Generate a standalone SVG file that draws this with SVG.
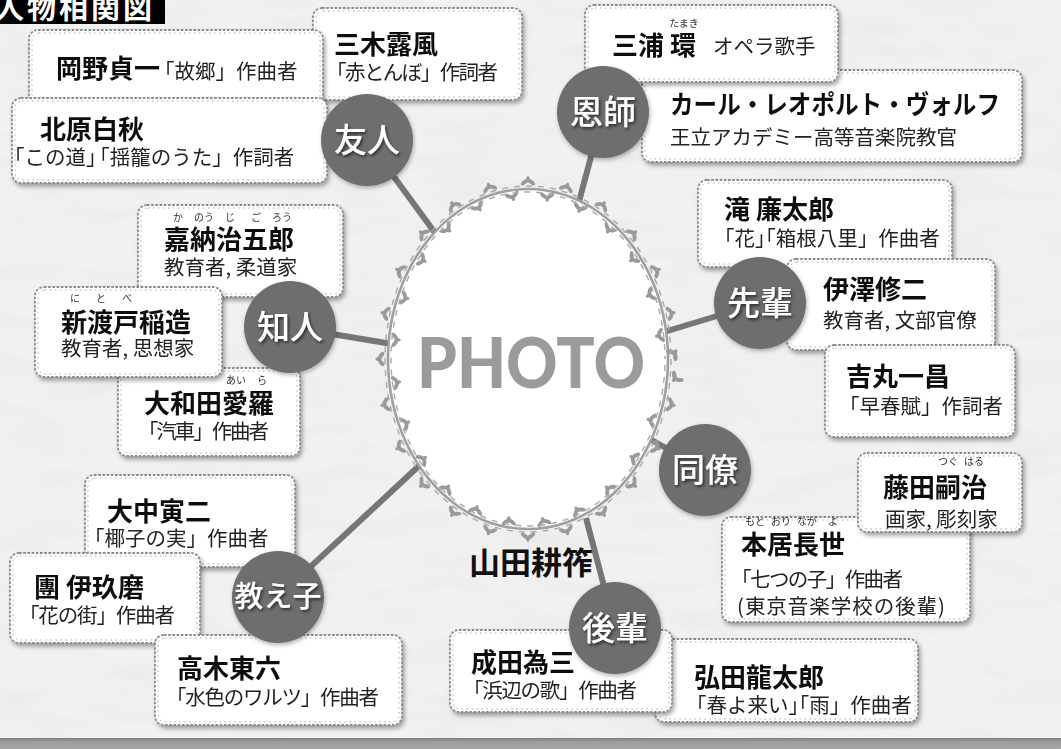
<svg xmlns="http://www.w3.org/2000/svg" width="1061" height="749" viewBox="0 0 1061 749">
  <defs>
    <style>
      .card{fill:#fff;stroke:#8c8c8c;stroke-width:1.8;stroke-dasharray:2.6 1.6}
      .lace{fill:none;stroke:#a6a6a6;stroke-width:1;stroke-dasharray:1.4 3.6}
      .nm{font-family:"Noto Sans CJK JP","Noto Sans CJK SC",sans-serif;font-weight:700;font-size:26px;fill:#111}
      .ds{font-family:"Noto Sans CJK JP","Noto Sans CJK SC",sans-serif;font-weight:400;font-size:20.5px;fill:#222}
      .rb{font-family:"Noto Sans CJK JP","Noto Sans CJK SC",sans-serif;font-weight:400;font-size:10px;fill:#333;text-anchor:middle}
      .cat{font-family:"Noto Sans CJK JP","Noto Sans CJK SC",sans-serif;font-weight:500;font-size:33px;fill:#fff;text-anchor:middle}
      .bub{fill:#6e6e6e}
      .link{stroke:#767676;stroke-width:6;fill:none}
    </style>
    <filter id="paper" x="0" y="0" width="100%" height="100%">
      <feTurbulence type="fractalNoise" baseFrequency="0.012 0.045" numOctaves="4" seed="7"/>
      <feColorMatrix type="matrix" values="0 0 0 0 0.72  0 0 0 0 0.72  0 0 0 0 0.72  0.6 0 0 0 -0.25"/>
    </filter>
    <filter id="sh" x="-10%" y="-10%" width="125%" height="130%">
      <feDropShadow dx="2" dy="3" stdDeviation="2" flood-color="#000" flood-opacity="0.35"/>
    </filter>
    <filter id="tsh" x="-20%" y="-20%" width="150%" height="150%">
      <feDropShadow dx="1.5" dy="2" stdDeviation="1.5" flood-color="#000" flood-opacity="0.6"/>
    </filter>
    <filter id="bsh" x="-20%" y="-20%" width="150%" height="150%">
      <feDropShadow dx="1" dy="2" stdDeviation="2" flood-color="#000" flood-opacity="0.3"/>
    </filter>
    <linearGradient id="band" x1="0" y1="0" x2="0" y2="1">
      <stop offset="0" stop-color="#7e7e7e"/>
      <stop offset="0.3" stop-color="#9a9a9a"/>
      <stop offset="1" stop-color="#a8a8a8"/>
    </linearGradient>
    <!-- leaf sprigs placed along the photo frame -->
    <marker id="leaf" markerUnits="userSpaceOnUse" orient="auto" markerWidth="60" markerHeight="40" viewBox="-30 -20 60 40" refX="0" refY="0" overflow="visible">
      <g fill="#9a9a9a">
        <ellipse cx="-3.6" cy="-6.8" rx="4.2" ry="2" transform="rotate(-40 -3.6 -6.8)"/>
        <ellipse cx="3.6" cy="-6.8" rx="4.2" ry="2" transform="rotate(40 3.6 -6.8)"/>
        <ellipse cx="0" cy="-9.5" rx="1.8" ry="3.2"/>
        <ellipse cx="15.6" cy="6.8" rx="4.2" ry="2" transform="rotate(40 15.6 6.8)"/>
        <ellipse cx="22.8" cy="6.8" rx="4.2" ry="2" transform="rotate(-40 22.8 6.8)"/>
        <ellipse cx="19.2" cy="9.5" rx="1.8" ry="3.2"/>
      </g>
    </marker>
  </defs>

  <!-- paper background -->
  <rect width="1061" height="749" fill="#f1f1f1"/>
  <rect width="1061" height="749" filter="url(#paper)"/>
  <rect x="0" y="738" width="1061" height="11" fill="url(#band)"/>

  <!-- title -->
  <g id="title">
    <rect x="0" y="0" width="165" height="24" fill="#000"/>
    <text x="-5" y="19" font-family="'Noto Sans CJK JP',sans-serif" font-weight="700" font-size="29" letter-spacing="3" fill="#fff">人物相関図</text>
  </g>

  <!-- connectors -->
  <g id="connectors">
    <line class="link" x1="367" y1="140" x2="441" y2="241"/>
    <line class="link" x1="603" y1="112" x2="577" y2="209"/>
    <line class="link" x1="290" y1="327" x2="392" y2="344"/>
    <line class="link" x1="760" y1="303" x2="664" y2="332"/>
    <line class="link" x1="705" y1="470" x2="648" y2="438"/>
    <line class="link" x1="615" y1="628" x2="586" y2="518"/>
    <line class="link" x1="278" y1="597" x2="421" y2="464"/>
  </g>

  <!-- central photo frame -->
  <g id="photo">
    <ellipse cx="528" cy="359" rx="140" ry="170" fill="#fff"/>
    <path d="M668 359 A140 170 0 0 1 663.2 403 A140 170 0 0 1 649.2 444 A140 170 0 0 1 627 479.2 A140 170 0 0 1 598 506.2 A140 170 0 0 1 564.2 523.2 A140 170 0 0 1 528 529 A140 170 0 0 1 491.8 523.2 A140 170 0 0 1 458 506.2 A140 170 0 0 1 429 479.2 A140 170 0 0 1 406.8 444 A140 170 0 0 1 392.8 403 A140 170 0 0 1 388 359 A140 170 0 0 1 392.8 315 A140 170 0 0 1 406.8 274 A140 170 0 0 1 429 238.8 A140 170 0 0 1 458 211.8 A140 170 0 0 1 491.8 194.8 A140 170 0 0 1 528 189 A140 170 0 0 1 564.2 194.8 A140 170 0 0 1 598 211.8 A140 170 0 0 1 627 238.8 A140 170 0 0 1 649.2 274 A140 170 0 0 1 663.2 315 A140 170 0 0 1 668 359 Z" fill="none" stroke="#a0a0a0" stroke-width="2.6" marker-start="url(#leaf)" marker-mid="url(#leaf)"/>
    <ellipse cx="528" cy="359" rx="143" ry="173" fill="none" stroke="#aaaaaa" stroke-width="1.4" stroke-dasharray="6 6"/>
    <ellipse cx="528" cy="359" rx="137" ry="167" fill="none" stroke="#aaaaaa" stroke-width="1.4" stroke-dasharray="6 6" stroke-dashoffset="6"/>
    <text x="531" y="388" text-anchor="middle" font-family="Lato,'Open Sans',sans-serif" font-weight="900" font-size="70" fill="#9b9b9b" textLength="228" lengthAdjust="spacingAndGlyphs">PHOTO</text>
  </g>
  <g id="center-name">
    <text class="nm" x="469" y="574" style="font-size:31px">山田耕筰</text>
  </g>

  <!-- 友人 -->
  <g id="miki" filter="url(#sh)">
    <rect class="card" x="313" y="8" width="209" height="92" rx="9"/>
    <rect class="lace" x="316" y="11" width="203" height="86" rx="7"/>
    <text class="nm" x="334" y="54">三木露風</text>
    <text class="ds" x="326" y="80" textLength="172" lengthAdjust="spacing">「赤とんぼ」作詞者</text>
  </g>
  <g id="okano" filter="url(#sh)">
    <rect class="card" x="29" y="30" width="294" height="75" rx="9"/>
    <rect class="lace" x="32" y="33" width="288" height="69" rx="7"/>
    <text class="nm" x="56" y="78">岡野貞一</text>
    <text class="ds" x="154" y="79">「故郷」作曲者</text>
  </g>
  <g id="kitahara" filter="url(#sh)">
    <rect class="card" x="12" y="98" width="315" height="85" rx="9"/>
    <rect class="lace" x="15" y="101" width="309" height="79" rx="7"/>
    <text class="nm" x="40" y="139">北原白秋</text>
    <text class="ds" x="4" y="165">「この道」<tspan dx="-7">「揺籠のうた」作詞者</tspan></text>
  </g>

  <!-- 恩師 -->
  <g id="wolf" filter="url(#sh)">
    <rect class="card" x="642" y="70" width="380" height="92" rx="9"/>
    <rect class="lace" x="645" y="73" width="374" height="86" rx="7"/>
    <text class="nm" x="670" y="114" textLength="330" lengthAdjust="spacingAndGlyphs">カール・レオポルト・ヴォルフ</text>
    <text class="ds" x="670" y="145">王立アカデミー高等音楽院教官</text>
  </g>
  <g id="miura" filter="url(#sh)">
    <rect class="card" x="585" y="5" width="253" height="77" rx="9"/>
    <rect class="lace" x="588" y="8" width="247" height="71" rx="7"/>
    <text class="rb" x="684" y="27">たまき</text>
    <text class="nm" x="612" y="55">三浦 環</text>
    <text class="ds" x="713" y="54">オペラ歌手</text>
  </g>

  <!-- 先輩 -->
  <g id="taki" filter="url(#sh)">
    <rect class="card" x="698" y="180" width="254" height="87" rx="9"/>
    <rect class="lace" x="701" y="183" width="248" height="81" rx="7"/>
    <text class="nm" x="724" y="219">滝 廉太郎</text>
    <text class="ds" x="714" y="246">「花」<tspan dx="-10">「箱根八里」作曲者</tspan></text>
  </g>
  <g id="izawa" filter="url(#sh)">
    <rect class="card" x="787" y="259" width="208" height="91" rx="9"/>
    <rect class="lace" x="790" y="262" width="202" height="85" rx="7"/>
    <text class="nm" x="823" y="299">伊澤修二</text>
    <text class="ds" x="823" y="328">教育者, 文部官僚</text>
  </g>
  <g id="yoshimaru" filter="url(#sh)">
    <rect class="card" x="825" y="345" width="190" height="92" rx="9"/>
    <rect class="lace" x="828" y="348" width="184" height="86" rx="7"/>
    <text class="nm" x="846" y="386">吉丸一昌</text>
    <text class="ds" x="839" y="414">「早春賦」作詞者</text>
  </g>

  <!-- 同僚 -->
  <g id="motoori" filter="url(#sh)">
    <rect class="card" x="722" y="517" width="248" height="105" rx="9"/>
    <rect class="lace" x="725" y="520" width="242" height="99" rx="7"/>
    <text class="rb" y="525"><tspan x="755">もと</tspan><tspan x="781">おり</tspan><tspan x="807">なが</tspan><tspan x="833">よ</tspan></text>
    <text class="nm" x="741" y="554">本居長世</text>
    <text class="ds" x="731" y="587" textLength="172" lengthAdjust="spacing">「七つの子」作曲者</text>
    <text class="ds" x="737" y="614" textLength="208" lengthAdjust="spacing">(東京音楽学校の後輩)</text>
  </g>
  <g id="fujita" filter="url(#sh)">
    <rect class="card" x="858" y="453" width="164" height="79" rx="9"/>
    <rect class="lace" x="861" y="456" width="158" height="73" rx="7"/>
    <text class="rb" y="465"><tspan x="948">つぐ</tspan><tspan x="974">はる</tspan></text>
    <text class="nm" x="883" y="497">藤田嗣治</text>
    <text class="ds" x="885" y="527">画家, 彫刻家</text>
  </g>

  <!-- 後輩 -->
  <g id="hirota" filter="url(#sh)">
    <rect class="card" x="655" y="639" width="263" height="83" rx="9"/>
    <rect class="lace" x="658" y="642" width="257" height="77" rx="7"/>
    <text class="nm" x="694" y="687">弘田龍太郎</text>
    <text class="ds" x="686" y="713">「春よ来い」<tspan dx="-10">「雨」作曲者</tspan></text>
  </g>
  <g id="narita" filter="url(#sh)">
    <rect class="card" x="450" y="630" width="222" height="82" rx="9"/>
    <rect class="lace" x="453" y="633" width="216" height="76" rx="7"/>
    <text class="nm" x="471" y="672">成田為三</text>
    <text class="ds" x="463" y="698" textLength="174" lengthAdjust="spacing">「浜辺の歌」作曲者</text>
  </g>

  <!-- 知人 -->
  <g id="kano" filter="url(#sh)">
    <rect class="card" x="138" y="205" width="205" height="92" rx="9"/>
    <rect class="lace" x="141" y="208" width="199" height="86" rx="7"/>
    <text class="rb" y="221"><tspan x="178">か</tspan><tspan x="204">のう</tspan><tspan x="230">じ</tspan><tspan x="256">ご</tspan><tspan x="282">ろう</tspan></text>
    <text class="nm" x="164" y="249">嘉納治五郎</text>
    <text class="ds" x="164" y="275">教育者, 柔道家</text>
  </g>
  <g id="owada" filter="url(#sh)">
    <rect class="card" x="118" y="368" width="182" height="88" rx="9"/>
    <rect class="lace" x="121" y="371" width="176" height="82" rx="7"/>
    <text class="rb" y="384"><tspan x="236">あい</tspan><tspan x="262">ら</tspan></text>
    <text class="nm" x="144" y="413">大和田愛羅</text>
    <text class="ds" x="138" y="439" textLength="131" lengthAdjust="spacing">「汽車」作曲者</text>
  </g>
  <g id="nitobe" filter="url(#sh)">
    <rect class="card" x="35" y="287" width="187" height="90" rx="9"/>
    <rect class="lace" x="38" y="290" width="181" height="84" rx="7"/>
    <text class="rb" y="302"><tspan x="75">に</tspan><tspan x="101">と</tspan><tspan x="127">べ</tspan></text>
    <text class="nm" x="61" y="332">新渡戸稲造</text>
    <text class="ds" x="61" y="356">教育者, 思想家</text>
  </g>

  <!-- 教え子 -->
  <g id="onaka" filter="url(#sh)">
    <rect class="card" x="85" y="475" width="210" height="92" rx="9"/>
    <rect class="lace" x="88" y="478" width="204" height="86" rx="7"/>
    <text class="nm" x="107" y="521">大中寅二</text>
    <text class="ds" x="84" y="546">「椰子の実」作曲者</text>
  </g>
  <g id="dan" filter="url(#sh)">
    <rect class="card" x="10" y="553" width="190" height="90" rx="9"/>
    <rect class="lace" x="13" y="556" width="184" height="84" rx="7"/>
    <text class="nm" x="34" y="597">團 伊玖磨</text>
    <text class="ds" x="19" y="623" textLength="156" lengthAdjust="spacing">「花の街」作曲者</text>
  </g>
  <g id="takagi" filter="url(#sh)">
    <rect class="card" x="155" y="635" width="247" height="90" rx="9"/>
    <rect class="lace" x="158" y="638" width="241" height="84" rx="7"/>
    <text class="nm" x="177" y="678">高木東六</text>
    <text class="ds" x="166" y="705" textLength="213" lengthAdjust="spacing">「水色のワルツ」作曲者</text>
  </g>

  <!-- relation bubbles -->
  <g id="yujin" filter="url(#bsh)"><circle class="bub" cx="367" cy="140" r="46"/><text class="cat" x="367" y="152" filter="url(#tsh)">友人</text></g>
  <g id="onshi" filter="url(#bsh)"><circle class="bub" cx="603" cy="112" r="46"/><text class="cat" x="603" y="124" filter="url(#tsh)">恩師</text></g>
  <g id="chijin" filter="url(#bsh)"><circle class="bub" cx="290" cy="327" r="46"/><text class="cat" x="290" y="339" filter="url(#tsh)">知人</text></g>
  <g id="senpai" filter="url(#bsh)"><circle class="bub" cx="760" cy="303" r="46"/><text class="cat" x="760" y="315" filter="url(#tsh)">先輩</text></g>
  <g id="doryo" filter="url(#bsh)"><circle class="bub" cx="705" cy="470" r="46"/><text class="cat" x="705" y="482" filter="url(#tsh)">同僚</text></g>
  <g id="kohai" filter="url(#bsh)"><circle class="bub" cx="615" cy="628" r="46"/><text class="cat" x="615" y="640" filter="url(#tsh)">後輩</text></g>
  <g id="oshiego" filter="url(#bsh)"><circle class="bub" cx="278" cy="597" r="46"/><text class="cat" x="278" y="607" style="font-size:29px" filter="url(#tsh)">教え子</text></g>
</svg>
